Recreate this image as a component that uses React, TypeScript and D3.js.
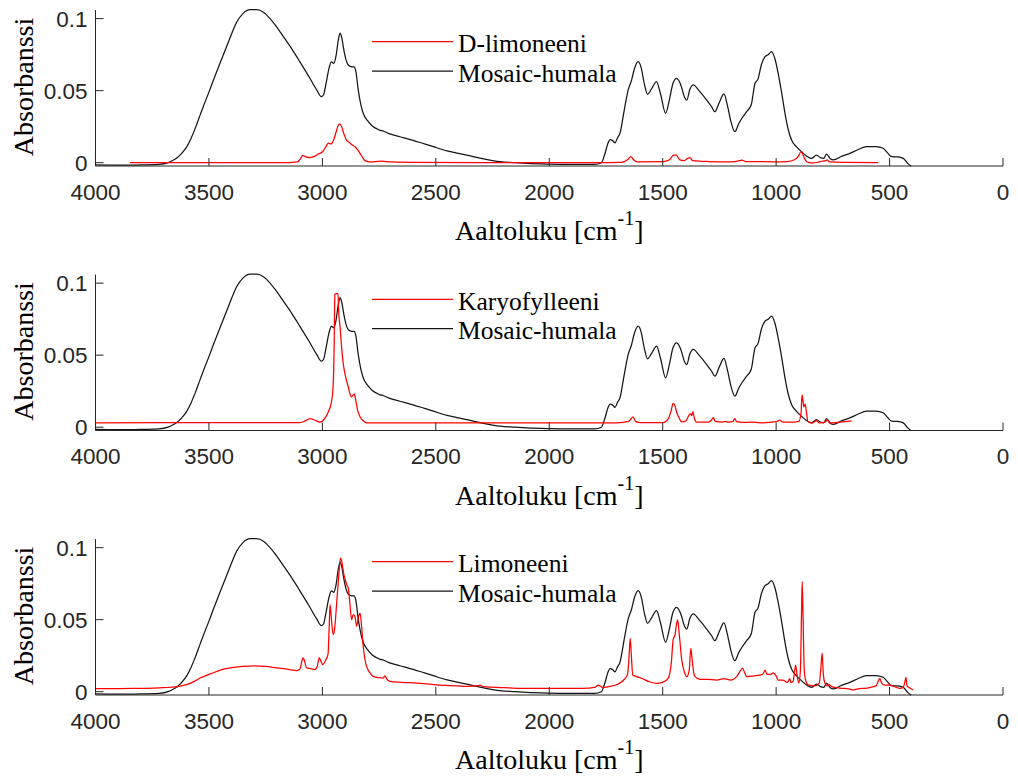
import React from 'react';
import * as d3 from 'd3';

// FTIR spectra: [wavenumber (cm^-1), absorbance]
const mosaicHumala: [number, number][] = [
  [4000, -0.0015], [3900, -0.0017], [3800, -0.0016], [3720, -0.0012], [3680, 0.0], [3660, 0.0015],
  [3640, 0.0035], [3620, 0.0065], [3598, 0.011], [3580, 0.0165], [3560, 0.024], [3539, 0.033],
  [3520, 0.041], [3500, 0.049], [3481, 0.057], [3450, 0.0695], [3422, 0.0806], [3395, 0.0915],
  [3378, 0.0975], [3350, 0.1035], [3319, 0.1062], [3290, 0.1062],
  [3260, 0.1045], [3246, 0.1026], [3210, 0.096], [3172, 0.0875], [3135, 0.079], [3099, 0.07],
  [3060, 0.06], [3025, 0.0505], [3005, 0.0458], [2995, 0.047], [2985, 0.054], [2970, 0.066],
  [2960, 0.07], [2950, 0.069], [2940, 0.074], [2930, 0.085], [2922, 0.0899], [2915, 0.087],
  [2905, 0.078], [2895, 0.071], [2886, 0.0678], [2870, 0.0665], [2860, 0.0665], [2852, 0.063],
  [2842, 0.0505], [2830, 0.04], [2820, 0.0343], [2800, 0.029], [2780, 0.0255], [2750, 0.0228],
  [2730, 0.0218], [2700, 0.0198], [2658, 0.018], [2600, 0.0155], [2550, 0.013], [2511, 0.0111],
  [2450, 0.0082], [2400, 0.0065], [2364, 0.0053], [2300, 0.003], [2250, 0.0015], [2217, 0.0007],
  [2150, 0.0], [2100, -0.0005], [2000, -0.001], [1900, -0.0012], [1800, -0.0012], [1770, 0.0],
  [1755, 0.006], [1740, 0.014], [1732, 0.016], [1722, 0.0155], [1710, 0.0138], [1700, 0.017],
  [1688, 0.0205], [1670, 0.036], [1652, 0.0505], [1637, 0.0574], [1625, 0.065], [1608, 0.0701],
  [1595, 0.066], [1580, 0.054], [1567, 0.0475], [1550, 0.051], [1527, 0.0563], [1510, 0.048],
  [1487, 0.0343], [1470, 0.044], [1455, 0.055], [1439, 0.0586], [1420, 0.054], [1405, 0.046],
  [1394, 0.0435], [1380, 0.051], [1365, 0.054], [1340, 0.05], [1306, 0.0435], [1285, 0.039],
  [1270, 0.0354], [1250, 0.042], [1230, 0.0477], [1215, 0.04], [1200, 0.029], [1182, 0.0215],
  [1165, 0.027], [1150, 0.031], [1130, 0.0354], [1110, 0.04], [1093, 0.0551], [1080, 0.058],
  [1065, 0.068], [1049, 0.0736], [1035, 0.075], [1020, 0.0771], [1005, 0.072], [991, 0.062],
  [975, 0.048], [961, 0.0343], [945, 0.022], [932, 0.0158], [910, 0.011], [888, 0.0076],
  [865, 0.0045], [844, 0.003], [822, 0.0053], [805, 0.0035], [790, 0.003], [778, 0.006],
  [760, 0.0025], [748, 0.0019], [710, 0.0045], [675, 0.0065], [640, 0.009], [601, 0.0111],
  [560, 0.0112], [528, 0.01], [510, 0.007], [491, 0.0042], [465, 0.004], [440, 0.003],
  [420, -0.0005], [405, -0.0025],
];

const dLimoneeni: [number, number][] = [
  [3848, 0], [3500, 0], [3150, 0], [3110, 0.0005], [3095, 0.003], [3087, 0.0051], [3075, 0.0042],
  [3058, 0.0035], [3040, 0.004], [3018, 0.006], [2999, 0.0076], [2985, 0.011], [2974, 0.0135],
  [2962, 0.013], [2950, 0.016], [2940, 0.021], [2930, 0.026], [2925, 0.0269], [2915, 0.025],
  [2905, 0.02], [2895, 0.016], [2886, 0.0146], [2870, 0.0125], [2856, 0.0111], [2845, 0.009],
  [2834, 0.0065], [2820, 0.003], [2812, 0.0014], [2790, 0.0005], [2740, 0.001], [2720, 0.0008],
  [2600, 0.0003], [2300, 0], [2000, 0], [1800, 0], [1680, 0.0003], [1655, 0.002], [1640, 0.0042],
  [1628, 0.002], [1610, 0.0006], [1500, 0.0007], [1470, 0.002], [1452, 0.0053], [1440, 0.0052],
  [1425, 0.002], [1405, 0.0015], [1390, 0.003], [1380, 0.0035], [1368, 0.0015], [1300, 0.0008],
  [1200, 0.0005], [1160, 0.0014], [1150, 0.0018], [1135, 0.0008], [1000, 0.0006], [950, 0.0008],
  [920, 0.002], [903, 0.0042], [890, 0.0076], [880, 0.005], [870, 0.0014], [855, 0],
  [840, -0.0002], [815, 0.0003], [800, 0.001], [785, 0.0012], [775, 0.002], [765, 0.0005],
  [700, 0.0002], [550, 0],
];

const karyofylleeni: [number, number][] = [
  [4000, 0.003], [3500, 0.0032], [3100, 0.0032], [3080, 0.004], [3055, 0.006], [3035, 0.005],
  [3011, 0.0035], [2990, 0.006], [2974, 0.0106], [2962, 0.016], [2955, 0.0234], [2950, 0.04],
  [2948, 0.058], [2946, 0.085], [2945, 0.0925], [2938, 0.0928], [2931, 0.0928], [2928, 0.08],
  [2922, 0.0697], [2915, 0.055], [2908, 0.0442], [2896, 0.034], [2886, 0.028], [2878, 0.023],
  [2872, 0.021], [2865, 0.0222], [2859, 0.0229], [2852, 0.018], [2845, 0.012], [2834, 0.0072],
  [2820, 0.0045], [2805, 0.003], [2700, 0.003], [2400, 0.003], [2000, 0.003], [1800, 0.003],
  [1700, 0.003], [1650, 0.004], [1630, 0.0072], [1620, 0.004], [1600, 0.0032], [1500, 0.0032],
  [1475, 0.006], [1462, 0.012], [1454, 0.0165], [1446, 0.015], [1438, 0.01], [1430, 0.0072],
  [1416, 0.0037], [1400, 0.004], [1385, 0.008], [1377, 0.0095], [1372, 0.008], [1367, 0.0106],
  [1360, 0.006], [1350, 0.0035], [1300, 0.0035], [1285, 0.005], [1277, 0.0067], [1268, 0.004],
  [1240, 0.0035], [1225, 0.004], [1210, 0.0035], [1190, 0.004], [1182, 0.006], [1174, 0.0038],
  [1150, 0.0033], [1100, 0.0035], [1060, 0.003], [1000, 0.0038], [983, 0.0049], [970, 0.0035],
  [920, 0.0035], [900, 0.004], [890, 0.01], [886, 0.0225], [882, 0.019], [878, 0.0141],
  [872, 0.016], [866, 0.01], [860, 0.004], [840, 0.003], [822, 0.0045], [810, 0.003],
  [785, 0.0035], [775, 0.005], [765, 0.003], [720, 0.0035], [667, 0.0044],
];

const limoneeni: [number, number][] = [
  [4000, 0.0021], [3900, 0.0022], [3800, 0.0023], [3745, 0.0025], [3700, 0.0028], [3640, 0.0035],
  [3598, 0.0049], [3560, 0.0075], [3539, 0.0095], [3500, 0.012], [3466, 0.014], [3430, 0.0158],
  [3393, 0.0168], [3350, 0.0176], [3305, 0.018], [3250, 0.0175], [3202, 0.0165], [3150, 0.0155],
  [3114, 0.0146], [3098, 0.016], [3090, 0.0215], [3085, 0.0234], [3078, 0.021], [3070, 0.0165],
  [3050, 0.016], [3033, 0.0153], [3022, 0.018], [3014, 0.0234], [3006, 0.021], [2999, 0.0188],
  [2985, 0.022], [2975, 0.026], [2970, 0.045], [2966, 0.0604], [2960, 0.05], [2952, 0.0396],
  [2945, 0.045], [2937, 0.0616], [2928, 0.08], [2920, 0.0928], [2914, 0.09], [2906, 0.082],
  [2901, 0.079], [2892, 0.074], [2886, 0.072], [2878, 0.06], [2871, 0.05], [2864, 0.0535],
  [2856, 0.052], [2849, 0.0454], [2841, 0.052], [2834, 0.0546], [2827, 0.045], [2820, 0.0315],
  [2812, 0.022], [2805, 0.0176], [2790, 0.013], [2776, 0.0106], [2750, 0.0097], [2732, 0.0095],
  [2724, 0.011], [2715, 0.0085], [2702, 0.0072], [2650, 0.0065], [2584, 0.006], [2500, 0.0048],
  [2400, 0.004], [2364, 0.0037], [2320, 0.004], [2305, 0.0045], [2290, 0.0035], [2200, 0.0028],
  [2129, 0.0023], [2000, 0.0023], [1850, 0.0023], [1800, 0.003], [1784, 0.0046], [1765, 0.003],
  [1740, 0.0035], [1700, 0.005], [1672, 0.0081], [1655, 0.012], [1648, 0.025], [1643, 0.037],
  [1638, 0.025], [1632, 0.0116], [1615, 0.0105], [1593, 0.0093], [1560, 0.007], [1527, 0.0058],
  [1500, 0.0065], [1476, 0.0093], [1462, 0.02], [1454, 0.0359], [1445, 0.04], [1440, 0.046],
  [1434, 0.0498], [1427, 0.04], [1416, 0.022], [1405, 0.014], [1394, 0.0104], [1383, 0.015],
  [1376, 0.0301], [1370, 0.022], [1360, 0.011], [1336, 0.0086], [1300, 0.0085], [1262, 0.0081],
  [1230, 0.009], [1200, 0.008], [1174, 0.0104], [1160, 0.014], [1148, 0.0162], [1138, 0.013],
  [1130, 0.0104], [1100, 0.011], [1065, 0.0116], [1055, 0.013], [1049, 0.015], [1040, 0.012],
  [1025, 0.012], [1013, 0.013], [1000, 0.011], [991, 0.0081], [970, 0.008], [950, 0.0065],
  [940, 0.009], [935, 0.0065], [925, 0.007], [918, 0.015], [914, 0.0185], [908, 0.012],
  [900, 0.006], [893, 0.015], [888, 0.055], [885, 0.0764], [881, 0.05], [876, 0.015],
  [870, 0.008], [859, 0.0047], [830, 0.004], [810, 0.006], [802, 0.018], [797, 0.0267],
  [792, 0.012], [785, 0.006], [775, 0.004], [767, 0.005], [755, 0.0035], [720, 0.0025],
  [680, 0.002], [660, 0.0012], [640, 0.002], [600, 0.0025], [560, 0.004], [548, 0.008],
  [543, 0.0093], [535, 0.006], [520, 0.0045], [500, 0.0045], [470, 0.003], [455, 0.0023],
  [440, 0.003], [432, 0.007], [428, 0.01], [423, 0.004], [415, 0.003], [396, 0.0012],
];

const compoundNames = ['D-limoneeni', 'Karyofylleeni', 'Limoneeni'];
const compoundSpectra = [dLimoneeni, karyofylleeni, limoneeni];
const hopName = 'Mosaic-humala';
const xTicks = [4000, 3500, 3000, 2500, 2000, 1500, 1000, 500, 0];
const yTicks = [0, 0.05, 0.1];
const yTickLabels = ['0', '0.05', '0.1'];

const WIDTH = 1018;
const HEIGHT = 778;
const LEFT = 95.5;
const RIGHT = 1003;
const PANEL_TOPS = [10, 274.5, 539];
const PANEL_H = 156;
const LEGEND_Y = [41.7, 299.3, 561.7];
const AXIS_COLOR = '#262626';
const SANS = '"Liberation Sans", Arial, sans-serif';
const SERIF = '"Liberation Serif", "Times New Roman", serif';

const x = d3.scaleLinear().domain([4000, 0]).range([LEFT, RIGHT]);

function Panel({ index }: { index: number }) {
  const top = PANEL_TOPS[index];
  const bottom = top + PANEL_H;
  const y = d3.scaleLinear().domain([-0.0023, 0.106]).range([bottom, top]);
  const line = d3
    .line<[number, number]>()
    .x((d) => x(d[0]))
    .y((d) => y(d[1]))
    .curve(d3.curveMonotoneX);
  const ly = LEGEND_Y[index];
  return (
    <g>
      <path d={line(mosaicHumala) ?? ''} fill="none" stroke="#151515" strokeWidth={1.25} />
      <path d={line(compoundSpectra[index]) ?? ''} fill="none" stroke="#ff0000" strokeWidth={1.25} />

      {/* axes */}
      <line x1={LEFT} x2={RIGHT} y1={bottom} y2={bottom} stroke={AXIS_COLOR} strokeWidth={1} />
      <line x1={LEFT} x2={LEFT} y1={top} y2={bottom} stroke={AXIS_COLOR} strokeWidth={1} />
      {xTicks.map((t) => (
        <g key={'x' + t}>
          <line x1={x(t)} x2={x(t)} y1={bottom} y2={bottom - 8} stroke={AXIS_COLOR} strokeWidth={1} />
          <text x={x(t)} y={bottom + 33.5} textAnchor="middle" fontFamily={SANS} fontSize={22.5} fill={AXIS_COLOR}>
            {t}
          </text>
        </g>
      ))}
      {yTicks.map((t, i) => (
        <g key={'y' + t}>
          <line x1={LEFT} x2={LEFT + 8} y1={y(t)} y2={y(t)} stroke={AXIS_COLOR} strokeWidth={1} />
          <text x={LEFT - 8} y={y(t) + 8} textAnchor="end" fontFamily={SANS} fontSize={22.5} fill={AXIS_COLOR}>
            {yTickLabels[i]}
          </text>
        </g>
      ))}

      {/* axis titles */}
      <text
        transform={`translate(33,${top + 77}) rotate(-90)`}
        textAnchor="middle"
        fontFamily={SERIF}
        fontSize={28}
        fill="#000"
      >
        Absorbanssi
      </text>
      <text x={(LEFT + RIGHT) / 2} y={bottom + 74} textAnchor="middle" fontFamily={SERIF} fontSize={28} fill="#000">
        <tspan>Aaltoluku [cm</tspan>
        <tspan dy={-15} fontSize={20}>-1</tspan>
        <tspan dy={15}>]</tspan>
      </text>

      {/* legend */}
      <line x1={372} x2={453} y1={ly} y2={ly} stroke="#ff0000" strokeWidth={1.25} />
      <text x={458} y={ly + 10.5} fontFamily={SERIF} fontSize={25.5} fill="#000">
        {compoundNames[index]}
      </text>
      <line x1={372} x2={453} y1={ly + 29.3} y2={ly + 29.3} stroke="#151515" strokeWidth={1.25} />
      <text x={458} y={ly + 39.8} fontFamily={SERIF} fontSize={25.5} fill="#000">
        {hopName}
      </text>
    </g>
  );
}

export default function App() {
  return (
    <svg
      width={WIDTH}
      height={HEIGHT}
      viewBox={`0 0 ${WIDTH} ${HEIGHT}`}
      style={{ position: 'absolute', left: 0, top: 0, background: '#fff' }}
    >
      <rect width={WIDTH} height={HEIGHT} fill="#fff" />
      {[0, 1, 2].map((i) => (
        <Panel key={i} index={i} />
      ))}
    </svg>
  );
}
